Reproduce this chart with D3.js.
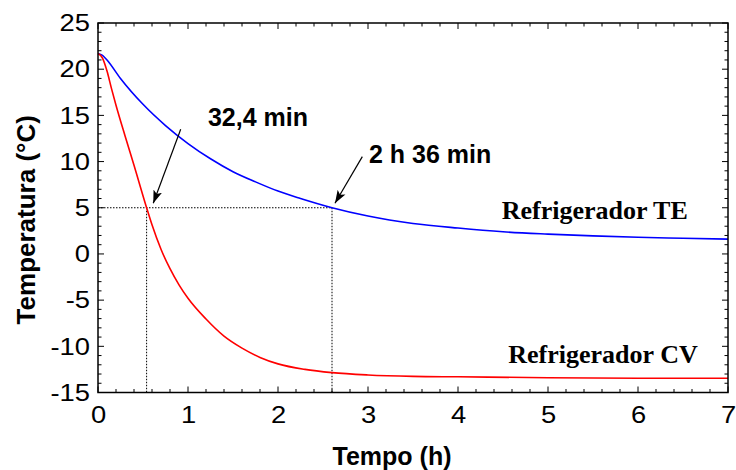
<!DOCTYPE html>
<html>
<head>
<meta charset="utf-8">
<script src="https://cdn.jsdelivr.net/npm/d3@7"></script>
<style>
html,body{margin:0;padding:0;background:#fff;}
svg{display:block;}
</style>
</head>
<body>
<svg id="chart" width="736" height="470"></svg>
<script>
// ---- data ----
const cvTime = [0, 0.05, 0.1, 0.15, 0.2, 0.3, 0.4, 0.54, 0.6, 0.7, 0.8, 0.9, 1.0, 1.2, 1.4, 1.6, 1.8, 2.0, 2.3, 2.6, 3.0, 3.5, 4.0, 5.0, 6.0, 7.0];
const cvTemp = [21.7, 21.2, 19.8, 17.9, 16.1, 12.8, 9.6, 5.0, 3.15, 0.5, -1.6, -3.35, -4.8, -7.05, -8.9, -10.2, -11.2, -11.9, -12.5, -12.85, -13.1, -13.25, -13.3, -13.4, -13.45, -13.45];
const teTime = [0, 0.05, 0.1, 0.25, 0.5, 0.75, 1.0, 1.25, 1.5, 1.75, 2.0, 2.25, 2.6, 3.0, 3.5, 4.0, 4.5, 5.0, 5.5, 6.0, 6.5, 7.0];
const teTemp = [21.7, 21.5, 21.0, 19.0, 16.2, 13.9, 11.95, 10.3, 8.9, 7.8, 6.8, 6.0, 5.0, 4.1, 3.3, 2.8, 2.4, 2.15, 1.95, 1.8, 1.7, 1.6];
const xTicks = [0, 1, 2, 3, 4, 5, 6, 7];
const yTicks = [-15, -10, -5, 0, 5, 10, 15, 20, 25];
const refTemp = 5;
const cvCross = 0.54;   // 32,4 min
const teCross = 2.6;    // 2 h 36 min
const annotations = [
  {text: "32,4 min", x: 1.222, y: 13.85, from: [0.919, 13.49], to: [0.614, 5.48]},
  {text: "2 h 36 min", x: 3.011, y: 9.88, from: [2.937, 10.53], to: [2.633, 5.48]}
];
const seriesLabels = [
  {text: "Refrigerador TE", x: 4.486, y: 3.75},
  {text: "Refrigerador CV", x: 4.559, y: -11.84}
];

// ---- chart ----
const svg = d3.select("#chart");
const L = 98, R = 728, T = 23, B = 392.5;
const x = d3.scaleLinear().domain([0, 7]).range([L, R]);
const y = d3.scaleLinear().domain([-15, 25]).range([B, T]);

svg.append("defs").append("marker")
  .attr("id", "arr").attr("viewBox", "0 -5 13 10")
  .attr("refX", 13).attr("refY", 0)
  .attr("markerWidth", 13).attr("markerHeight", 10)
  .attr("markerUnits", "userSpaceOnUse")
  .attr("orient", "auto")
  .append("path").attr("d", "M0,-4.5L13,0L0,4.5L3,0Z").attr("fill", "#000");

// minor & major ticks on all sides (inside)
const xMinor = d3.range(0, 7.001, 0.2);
const yMinor = d3.range(-15, 25.001, 1);
const tg = svg.append("g").attr("stroke", "#000").attr("stroke-width", 1);
xMinor.forEach(v => {
  const major = Math.abs(v - Math.round(v)) < 1e-6;
  const len = major ? 6 : 3.5;
  tg.append("line").attr("x1", x(v)).attr("x2", x(v)).attr("y1", B).attr("y2", B - len);
  tg.append("line").attr("x1", x(v)).attr("x2", x(v)).attr("y1", T).attr("y2", T + len);
});
yMinor.forEach(v => {
  const major = v % 5 === 0;
  const len = major ? 6 : 3.5;
  tg.append("line").attr("x1", L).attr("x2", L + len).attr("y1", y(v)).attr("y2", y(v));
  tg.append("line").attr("x1", R).attr("x2", R - len).attr("y1", y(v)).attr("y2", y(v));
});

// axes labels via d3 axes
const xAxis = svg.append("g").attr("transform", `translate(0,${B})`)
  .call(d3.axisBottom(x).tickValues(xTicks).tickSize(0).tickPadding(13).tickFormat(d3.format("d")));
const yAxis = svg.append("g").attr("transform", `translate(${L},0)`)
  .call(d3.axisLeft(y).tickValues(yTicks).tickSize(0).tickPadding(7).tickFormat(d => d < 0 ? "-" + Math.abs(d) : d));
[xAxis, yAxis].forEach(g => {
  g.select(".domain").remove();
  g.selectAll("text").attr("font-family", "'Liberation Sans', Arial, sans-serif")
    .attr("font-size", 24).attr("fill", "#000").attr("transform", "scale(1.14,1)");
});

// reference dotted lines
const dg = svg.append("g").attr("stroke", "#000").attr("stroke-width", 1).attr("stroke-dasharray", "1.5,1.5").attr("fill", "none");
dg.append("line").attr("x1", x(0)).attr("x2", x(teCross)).attr("y1", y(refTemp)).attr("y2", y(refTemp));
dg.append("line").attr("x1", x(cvCross)).attr("x2", x(cvCross)).attr("y1", y(refTemp)).attr("y2", B);
dg.append("line").attr("x1", x(teCross)).attr("x2", x(teCross)).attr("y1", y(refTemp)).attr("y2", B);

// curves
const line = d3.line().x(d => x(d[0])).y(d => y(d[1])).curve(d3.curveMonotoneX);
svg.append("path").datum(teTime.map((t, i) => [t, teTemp[i]]))
  .attr("d", line).attr("fill", "none").attr("stroke", "#0000ff").attr("stroke-width", 1.6);
svg.append("path").datum(cvTime.map((t, i) => [t, cvTemp[i]]))
  .attr("d", line).attr("fill", "none").attr("stroke", "#ff0000").attr("stroke-width", 1.6);

// frame
svg.append("rect").attr("x", L).attr("y", T).attr("width", R - L).attr("height", B - T)
  .attr("fill", "none").attr("stroke", "#000").attr("stroke-width", 1.5);

// annotations
annotations.forEach(a => {
  svg.append("line").attr("x1", x(a.from[0])).attr("y1", y(a.from[1]))
    .attr("x2", x(a.to[0])).attr("y2", y(a.to[1]))
    .attr("stroke", "#000").attr("stroke-width", 1.2).attr("marker-end", "url(#arr)");
  svg.append("text").attr("x", x(a.x)).attr("y", y(a.y)).text(a.text)
    .attr("font-family", "'Liberation Sans', Arial, sans-serif").attr("font-weight", "bold")
    .attr("font-size", 25).attr("fill", "#000");
});
seriesLabels.forEach(s => {
  svg.append("text").attr("x", x(s.x)).attr("y", y(s.y)).text(s.text)
    .attr("font-family", "'Liberation Serif', 'Times New Roman', serif").attr("font-weight", "bold")
    .attr("font-size", 26).attr("fill", "#000");
});

// titles
svg.append("text").attr("x", 392).attr("y", 465).attr("text-anchor", "middle")
  .text("Tempo (h)").attr("font-family", "'Liberation Sans', Arial, sans-serif")
  .attr("font-weight", "bold").attr("font-size", 25).attr("fill", "#000");
svg.append("text").attr("transform", `translate(35,${(T + B) / 2 + 12}) rotate(-90)`).attr("text-anchor", "middle")
  .text("Temperatura (°C)").attr("font-family", "'Liberation Sans', Arial, sans-serif")
  .attr("font-weight", "bold").attr("font-size", 26).attr("fill", "#000");
</script>
</body>
</html>
